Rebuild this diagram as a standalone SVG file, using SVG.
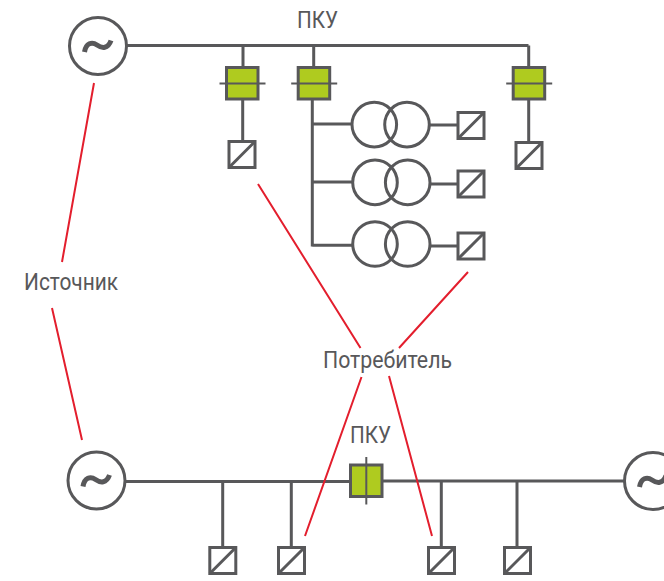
<svg xmlns="http://www.w3.org/2000/svg" width="664" height="581" viewBox="0 0 664 581">
<style>
.w{fill:none;stroke:#58585a;stroke-width:3}
.t{fill:none;stroke:#58585a;stroke-width:3}
.n{fill:#fff;stroke:#58585a;stroke-width:3}
.b{fill:#afcb1f;stroke:#58585a;stroke-width:3}
.x{fill:none;stroke:#58585a;stroke-width:2}
.r{fill:none;stroke:#e31e2d;stroke-width:2}
.l{font-family:"Roboto","Liberation Sans",sans-serif;font-size:24.500px;font-weight:400;fill:#58585a}
</style>
<defs>
<g id="conv"><rect x="1.5" y="1.5" width="26" height="26" class="n"/><path d="M1.5 27.5L27.5 1.5" class="w"/></g>
<g id="gen"><circle r="28.5" class="n"/><path d="M-13.500 6C-12 -3 -6 -4.500 -1 -1C4 2.500 10 3 13 -5.500" fill="none" stroke="#58585a" stroke-width="5"/></g>
<g id="brk"><rect x="1.500" y="1.500" width="31.500" height="31.500" class="b"/><path d="M-5.500 17.500H40.500" class="x"/></g>
<g id="tr"><circle cx="0" cy="0" r="22.300" class="t"/><circle cx="32.700" cy="0" r="22.300" class="t"/></g>
</defs>
<g id="connectors">
<path class="w" d="M127 45.500H528.500M243 45.500V66M313.700 45.500V66M528.700 45.500V66M242.700 100V141M528.700 100V142"/>
<path class="w" d="M312.300 100V246.500M312.300 124H352M312.300 182H353M312.300 245.300H353M430 125H457M431 184H457M431 246H457"/>
<path class="w" d="M125 481.500H350M383 481H625M222.700 481V547M291.300 481V547M441.300 481V547M517 481V547"/>
<path class="r" d="M94 83L62 262M52 308L82 440M258 184L360.500 348M468 272L399 348M361.500 377L305 536M389 376L432 536"/>
</g>
<g id="gen1"><use href="#gen" x="98" y="46"/></g>
<g id="gen2"><use href="#gen" x="96.500" y="480.500"/></g>
<g id="gen3"><use href="#gen" x="653" y="481"/></g>
<g id="brk1"><use href="#brk" x="225" y="66"/></g>
<g id="brk2"><use href="#brk" x="296.700" y="66"/></g>
<g id="brk3"><use href="#brk" x="511.700" y="66"/></g>
<g id="brk4"><rect x="350.500" y="465" width="31.500" height="31.500" class="b"/><path d="M366.300 457V504.500" class="x"/></g>
<g id="tr1"><use href="#tr" x="374.300" y="124.600"/></g>
<g id="tr2"><use href="#tr" x="375" y="182.400"/></g>
<g id="tr3"><use href="#tr" x="375" y="244"/></g>
<g id="c1"><use href="#conv" x="227.500" y="140"/></g>
<g id="c2"><use href="#conv" x="514.500" y="141"/></g>
<g id="c3"><use href="#conv" x="456.500" y="111"/></g>
<g id="c4"><use href="#conv" x="456.500" y="169.500"/></g>
<g id="c5"><use href="#conv" x="456.500" y="231.500"/></g>
<g id="c6"><use href="#conv" x="208.300" y="546"/></g>
<g id="c7"><use href="#conv" x="277" y="546"/></g>
<g id="c8"><use href="#conv" x="427" y="546"/></g>
<g id="c9"><use href="#conv" x="503" y="546"/></g>
<g id="labels">
<text class="l" x="297" y="28" textLength="41" lengthAdjust="spacingAndGlyphs">ПКУ</text>
<text class="l" x="350" y="443" textLength="41" lengthAdjust="spacingAndGlyphs">ПКУ</text>
<text class="l" x="24" y="290" textLength="94" lengthAdjust="spacingAndGlyphs">Источник</text>
<text class="l" x="323" y="368" textLength="129" lengthAdjust="spacingAndGlyphs">Потребитель</text>
</g>
</svg>
